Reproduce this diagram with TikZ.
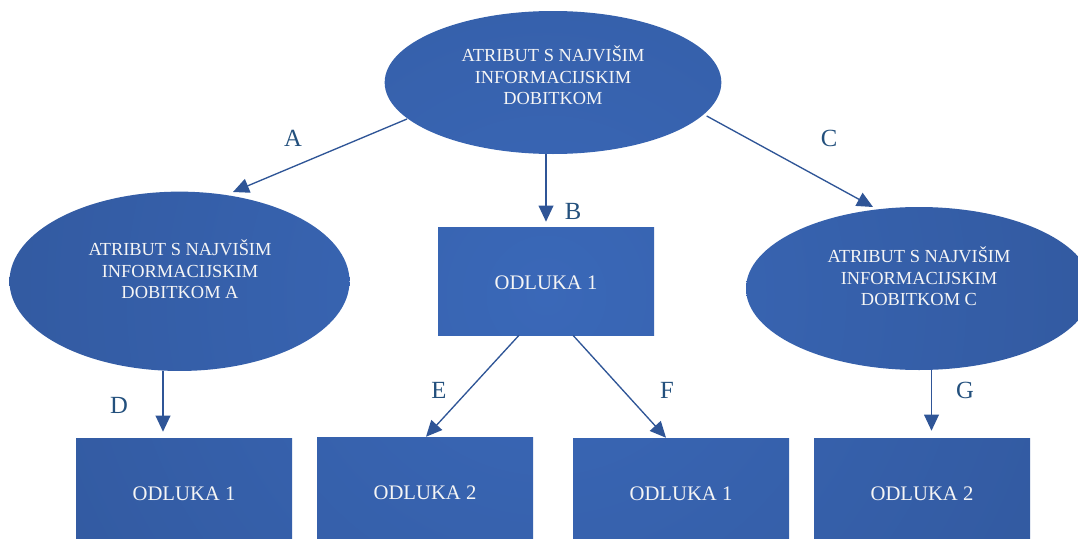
\documentclass[tikz,border=0pt]{standalone}
\usepackage{fontspec}
\setmainfont{Liberation Serif}
\usetikzlibrary{shapes.geometric,arrows.meta}
\definecolor{lite}{HTML}{3A68B8}
\definecolor{dark}{HTML}{2A4A86}
\definecolor{txt}{HTML}{F5F5F5}
\definecolor{lblc}{HTML}{23507D}
\definecolor{arrc}{HTML}{2F5597}
\tikzset{
  grad/.style={draw=none, inner sep=0pt,
    path picture={\shade[inner color=lite, outer color=dark] (glow) circle[radius=900pt];}},
  ell/.style={grad, ellipse},
  box/.style={grad, rectangle, minimum width=162pt, minimum height=81pt,
    text height=13pt, text=txt, font=\fontsize{15.5}{18}\selectfont},
  etext/.style={align=center, inner sep=0pt, text=txt, font=\fontsize{13.8}{16}\selectfont},
  lbl/.style={inner sep=0pt, text=lblc, font=\fontsize{18.5}{20}\selectfont},
  arr/.style={draw=arrc, line width=1pt, -{Triangle[length=12pt,width=11pt]}}
}
\begin{document}
\begin{tikzpicture}[x=0.75pt,y=-0.75pt]
\fill[white] (0,0) rectangle (1078,539);
\useasboundingbox (0,0) rectangle (1078,539);
\clip (0,0) rectangle (1078,539);
\coordinate (glow) at (546,295);
% shapes
\node[ell, minimum width=252.5pt, minimum height=107.25pt] (top) at (553,82.5) {};
\node[ell, minimum width=255pt, minimum height=134.5pt] (leftE) at (179.5,281.3) {};
\node[ell, minimum width=259.5pt, minimum height=122.25pt] (rightE) at (919,288.5) {};
\node[box] (mid) at (546,281) {ODLUKA 1};
\node[box] (r1) at (184,492) {ODLUKA 1};
\node[box] (r2) at (425,491) {ODLUKA 2};
\node[box] (r3) at (681,492) {ODLUKA 1};
\node[box] (r4) at (922,492) {ODLUKA 2};
% ellipse texts
\node[etext] (topT) at (553,75.5) {ATRIBUT S NAJVIŠIM\\INFORMACIJSKIM\\DOBITKOM};
\node[etext] (leftT) at (180,269.5) {ATRIBUT S NAJVIŠIM\\INFORMACIJSKIM\\DOBITKOM A};
\node[etext] (rightT) at (919,276.5) {ATRIBUT S NAJVIŠIM\\INFORMACIJSKIM\\DOBITKOM C};
% connectors
\draw[arr] ([shift={(-146,36.5)}]top.center) -- ([shift={(53.5,-89.3)}]leftE.center);
\draw[arr] ([shift={(153.7,33.5)}]top.center) -- ([shift={(-46,-81.5)}]rightE.center);
\draw[arr] (top.south -| mid.north) -- ([shift={(0,-5)}]mid.north);
\draw[arr] ([shift={(-16.5,0)}]leftE.south) -- ([shift={(-21,-6)}]r1.north);
\draw[arr] ([shift={(12.5,0)}]rightE.south) -- ([shift={(9.5,-7)}]r4.north);
\draw[arr] ([shift={(-27,0)}]mid.south) -- ([shift={(1,0)}]r2.north);
\draw[arr] ([shift={(27,0)}]mid.south) -- ([shift={(-15,0)}]r3.north);
% labels
\node[lbl] (lA) at (293,138) {A};
\node[lbl] (lB) at (573,211) {B};
\node[lbl] (lC) at (829,138) {C};
\node[lbl] (lD) at (119,405) {D};
\node[lbl] (lE) at (439,390) {E};
\node[lbl] (lF) at (667,390) {F};
\node[lbl] (lG) at (965,390) {G};
\end{tikzpicture}
\end{document}
